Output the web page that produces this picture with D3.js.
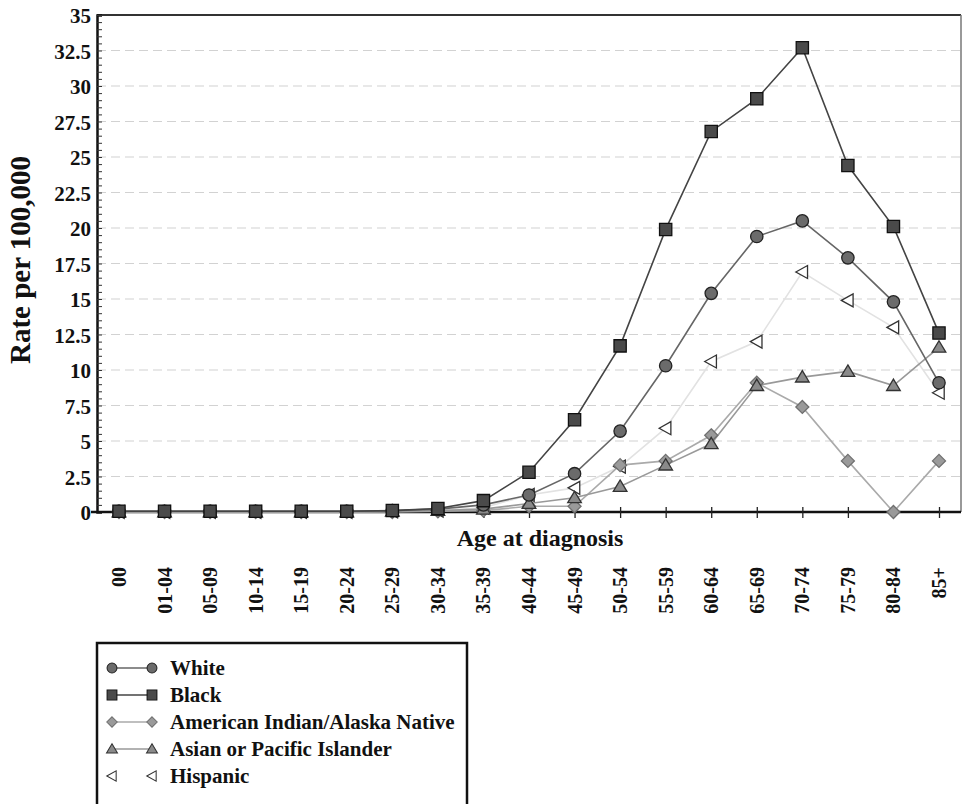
<!DOCTYPE html>
<html>
<head>
<meta charset="utf-8">
<script src="https://cdn.jsdelivr.net/npm/d3@7"></script>
<style>
  body { margin: 0; background: #fff; }
  text { font-family: "Liberation Serif", "Times New Roman", serif; font-weight: bold; fill: #111; }
</style>
</head>
<body>
<svg id="chart" width="965" height="804"></svg>
<script>
var ages = ["00","01-04","05-09","10-14","15-19","20-24","25-29","30-34","35-39","40-44",
            "45-49","50-54","55-59","60-64","65-69","70-74","75-79","80-84","85+"];

var white    = [0.05,0.05,0.05,0.05,0.05,0.05,0.1,0.2,0.5,1.2,2.7,5.7,10.3,15.4,19.4,20.5,17.9,14.8,9.1];
var black    = [0.05,0.05,0.05,0.05,0.05,0.05,0.1,0.25,0.8,2.8,6.5,11.7,19.9,26.8,29.1,32.7,24.4,20.1,12.6];
var aian     = [0,0,0,0,0,0,0,0.05,0.1,0.4,0.4,3.3,3.6,5.4,9.1,7.4,3.6,0,3.6];
var asian    = [0,0,0,0,0,0,0.05,0.1,0.2,0.6,1.0,1.8,3.3,4.8,8.9,9.5,9.9,8.9,11.6];
var hispanic = [0,0,0,0,0,0,0.05,0.1,0.3,1.2,1.7,3.2,5.9,10.6,12.0,16.9,14.9,13.0,8.4];

var yTicks = [0,2.5,5,7.5,10,12.5,15,17.5,20,22.5,25,27.5,30,32.5,35];

var series = [
  {name: "White", values: white, line: "#666", shape: "circle", fill: "#6b6b6b", stroke: "#222"},
  {name: "Black", values: black, line: "#444", shape: "square", fill: "#4a4a4a", stroke: "#111"},
  {name: "American Indian/Alaska Native", values: aian, line: "#aaa", shape: "diamond", fill: "#9a9a9a", stroke: "#6f6f6f"},
  {name: "Asian or Pacific Islander", values: asian, line: "#999", shape: "triangle", fill: "#8a8a8a", stroke: "#333"},
  {name: "Hispanic", values: hispanic, line: "#e2e2e2", shape: "tri-left", fill: "#fff", stroke: "#333"}
];

var svg = d3.select("#chart"),
    plotLeft = 97, plotRight = 961, plotTop = 15, plotBottom = 512;

var x = d3.scalePoint().domain(ages).range([119, 939]);
var y = d3.scaleLinear().domain([0, 35]).range([plotBottom, plotTop]);

// grid
svg.append("g").selectAll("line")
  .data(yTicks.filter(function(d) { return d > 0 && d < 35; }))
  .enter().append("line")
    .attr("x1", plotLeft).attr("x2", plotRight)
    .attr("y1", function(d) { return y(d); }).attr("y2", function(d) { return y(d); })
    .attr("stroke", "#d2d2d2").attr("stroke-width", 1.2)
    .attr("stroke-dasharray", "9,5");

// frame top/right
svg.append("line").attr("x1", plotLeft).attr("x2", plotRight).attr("y1", plotTop).attr("y2", plotTop)
  .attr("stroke", "#333").attr("stroke-width", 2);
svg.append("line").attr("x1", plotRight).attr("x2", plotRight).attr("y1", plotTop).attr("y2", plotBottom)
  .attr("stroke", "#777").attr("stroke-width", 1.5);

// y axis: minor ticks inside, labels outside
var minor = d3.range(0, 35.01, 0.5);
svg.append("g")
  .attr("transform", "translate(" + plotLeft + ",0)")
  .call(d3.axisLeft(y).tickValues(minor).tickSize(-5).tickFormat(""))
  .call(function(g) {
    g.select(".domain").attr("stroke", "#111").attr("stroke-width", 2.5);
    g.selectAll(".tick line").attr("stroke", "#333");
  });

svg.append("g")
  .attr("transform", "translate(" + plotLeft + ",0)")
  .call(d3.axisLeft(y).tickValues(yTicks).tickSize(0).tickPadding(6).tickFormat(function(d) { return d; }))
  .call(function(g) {
    g.select(".domain").remove();
    g.selectAll("text").style("font-size", "21px").attr("dy", "0.36em");
  });

// x axis
svg.append("g")
  .attr("transform", "translate(0," + plotBottom + ")")
  .call(d3.axisBottom(x).tickSize(6).tickFormat(""))
  .call(function(g) {
    g.select(".domain").attr("d", "M" + (plotLeft - 6) + ",0H" + plotRight).attr("stroke", "#111").attr("stroke-width", 2.5);
    g.selectAll(".tick line").attr("y1", -5).attr("stroke", "#222").attr("stroke-width", 1.3);
  });

svg.append("g").selectAll("text")
  .data(ages)
  .enter().append("text")
    .attr("transform", function(d) { return "translate(" + (x(d) + 7) + ",567) rotate(-90)"; })
    .attr("text-anchor", "end")
    .style("font-size", "20px")
    .text(function(d) { return d; });

svg.append("text")
  .attr("x", 540).attr("y", 546)
  .attr("text-anchor", "middle")
  .style("font-size", "24px")
  .text("Age at diagnosis");

svg.append("text")
  .attr("transform", "translate(30,260) rotate(-90)")
  .attr("text-anchor", "middle")
  .style("font-size", "29px")
  .text("Rate per 100,000");

function symbolPath(s) {
  var r = 6.5;
  if (s.shape === "tri-left") {
    return "M" + (-r) + ",0L" + (r * 0.8) + "," + (-r) + "L" + (r * 0.8) + "," + r + "Z";
  }
  if (s.shape === "diamond") {
    return "M0," + (-r) + "L" + r + ",0L0," + r + "L" + (-r) + ",0Z";
  }
  if (s.shape === "triangle") {
    return "M0," + (-r) + "L" + (r * 1.05) + "," + (r * 0.75) + "L" + (-r * 1.05) + "," + (r * 0.75) + "Z";
  }
  if (s.shape === "square") return d3.symbol().type(d3.symbolSquare).size(150)();
  return d3.symbol().type(d3.symbolCircle).size(120)();
}

var line = d3.line()
  .x(function(d, i) { return x(ages[i]); })
  .y(function(d) { return y(d); });

// lines first, light to dark
var order = [4, 2, 3, 0, 1];
order.forEach(function(k) {
  var s = series[k];
  svg.append("path")
    .datum(s.values)
    .attr("fill", "none")
    .attr("stroke", s.line)
    .attr("stroke-width", 1.6)
    .attr("d", line);
});

order.forEach(function(k) {
  var s = series[k];
  svg.append("g").selectAll("path")
    .data(s.values)
    .enter().append("path")
      .attr("transform", function(d, i) { return "translate(" + x(ages[i]) + "," + y(d) + ")"; })
      .attr("d", symbolPath(s))
      .attr("fill", s.fill)
      .attr("stroke", s.stroke)
      .attr("stroke-width", 1.3);
});

// legend
var lg = svg.append("g");
lg.append("rect")
  .attr("x", 97).attr("y", 643).attr("width", 370).attr("height", 200)
  .attr("fill", "#fff").attr("stroke", "#111").attr("stroke-width", 2.5);

series.forEach(function(s, i) {
  var cy = 668 + i * 27;
  if (s.shape !== "tri-left") {
    lg.append("line").attr("x1", 112).attr("x2", 152).attr("y1", cy).attr("y2", cy)
      .attr("stroke", s.line).attr("stroke-width", 1.6);
  }
  [112, 152].forEach(function(cx) {
    lg.append("path")
      .attr("transform", "translate(" + cx + "," + cy + ") scale(0.8)")
      .attr("d", symbolPath(s))
      .attr("fill", s.fill).attr("stroke", s.stroke).attr("stroke-width", 1.3);
  });
  lg.append("text")
    .attr("x", 170).attr("y", cy + 7)
    .style("font-size", "21px")
    .text(s.name);
});
</script>
</body>
</html>
